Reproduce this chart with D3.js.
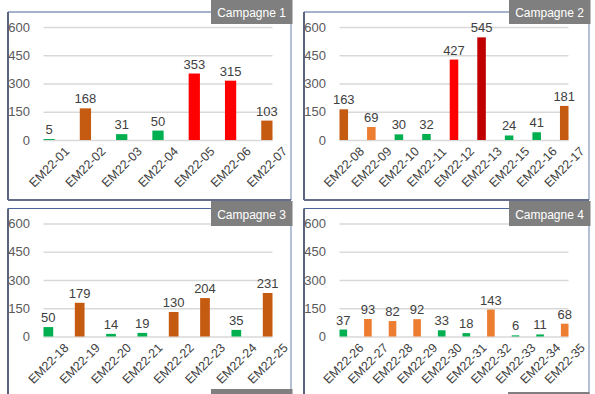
<!DOCTYPE html>
<html>
<head>
<meta charset="utf-8">
<script src="https://cdn.jsdelivr.net/npm/d3@7"></script>
<style>
    body { margin: 0; background: #fff; }
    svg { display: block; font-family: "Liberation Sans", Arial, sans-serif; }
</style>
</head>
<body>
<svg id="chart" width="595" height="394"></svg>
<script>
// Data per campaign: station codes, counts and status level of each bar
var titles = ["Campagne 1", "Campagne 2", "Campagne 3", "Campagne 4"];

var stations1 = ["EM22-01", "EM22-02", "EM22-03", "EM22-04", "EM22-05", "EM22-06", "EM22-07"];
var values1 = [5, 168, 31, 50, 353, 315, 103];
var levels1 = ["faible", "eleve", "faible", "faible", "fort", "fort", "eleve"];

var stations2 = ["EM22-08", "EM22-09", "EM22-10", "EM22-11", "EM22-12", "EM22-13", "EM22-15", "EM22-16", "EM22-17"];
var values2 = [163, 69, 30, 32, 427, 545, 24, 41, 181];
var levels2 = ["eleve", "moyen", "faible", "faible", "fort", "tres_fort", "faible", "faible", "eleve"];

var stations3 = ["EM22-18", "EM22-19", "EM22-20", "EM22-21", "EM22-22", "EM22-23", "EM22-24", "EM22-25"];
var values3 = [50, 179, 14, 19, 130, 204, 35, 231];
var levels3 = ["faible", "eleve", "faible", "faible", "eleve", "eleve", "faible", "eleve"];

var stations4 = ["EM22-26", "EM22-27", "EM22-28", "EM22-29", "EM22-30", "EM22-31", "EM22-32", "EM22-33", "EM22-34", "EM22-35"];
var values4 = [37, 93, 82, 92, 33, 18, 143, 6, 11, 68];
var levels4 = ["faible", "moyen", "moyen", "moyen", "faible", "faible", "moyen", "faible", "faible", "moyen"];

var yTicks = [0, 150, 300, 450, 600];

var levelColor = d3.scaleOrdinal()
    .domain(["faible", "moyen", "eleve", "fort", "tres_fort"])
    .range(["#00b050", "#ed7d31", "#c55a11", "#ff0000", "#c00000"]);

var svg = d3.select("#chart");

// frame placement of the four panels (left, top, title box top / bottom)
var panels = [
    {left: 8, top: 12, boxTop: -2, boxBottom: 24, right: 291, bottom: 200, cats: stations1, vals: values1, lv: levels1},
    {left: 304, top: 12, boxTop: -2, boxBottom: 24, right: 589, bottom: 200, cats: stations2, vals: values2, lv: levels2},
    {left: 8, top: 208.5, boxTop: 201, boxBottom: 226, right: 291, bottom: 420, cats: stations3, vals: values3, lv: levels3},
    {left: 304, top: 208.5, boxTop: 201, boxBottom: 226, right: 589, bottom: 420, cats: stations4, vals: values4, lv: levels4}
];

function drawPanel(p, i) {
    var g = svg.append("g");
    var gx0 = p.left + 35.5, gx1 = p.left + 264.5;

    // panel frame
    g.append("line").attr("x1", p.left).attr("x2", p.right).attr("y1", p.top).attr("y2", p.top)
        .attr("stroke", "#4a6499").attr("stroke-width", 1);
    g.append("line").attr("x1", p.left).attr("x2", p.left).attr("y1", p.top).attr("y2", p.bottom)
        .attr("stroke", "#59647f").attr("stroke-width", 2);
    g.append("line").attr("x1", p.right).attr("x2", p.right).attr("y1", p.top).attr("y2", p.bottom)
        .attr("stroke", "#8c9cbf").attr("stroke-width", 1.3);
    g.append("line").attr("x1", p.left).attr("x2", p.right).attr("y1", p.bottom).attr("y2", p.bottom)
        .attr("stroke", "#636e8a").attr("stroke-width", 2);

    var y = d3.scaleLinear().domain([0, 600]).range([p.top + 128, p.top + 15]);
    var x = d3.scaleBand().domain(p.cats).range([gx0, gx1]).paddingInner(0.69).paddingOuter(0);

    // y axis with gridlines
    var ya = g.append("g").attr("transform", "translate(" + gx0 + ",0)")
        .call(d3.axisLeft(y).tickValues(yTicks).tickSize(-(gx1 - gx0)).tickPadding(13.5));
    ya.select(".domain").remove();
    ya.selectAll("line").attr("stroke", "#d9d9d9").attr("stroke-width", 1.4);
    ya.selectAll("text").attr("fill", "#595959").style("font-size", "13px")
        .style("font-family", "'Liberation Sans', Arial, sans-serif");

    // x axis, rotated labels centred on each category
    var xa = g.append("g").attr("transform", "translate(0," + y(0) + ")")
        .call(d3.axisBottom(x).tickSize(0));
    xa.select(".domain").remove();
    xa.selectAll("text")
        .attr("y", 0).attr("dy", "0.35em")
        .attr("transform", "translate(0,27) rotate(-45)")
        .attr("text-anchor", "middle")
        .attr("fill", "#404040").style("font-size", "12.5px")
        .style("font-family", "'Liberation Sans', Arial, sans-serif");

    var rows = p.cats.map(function (c, k) { return {cat: c, v: p.vals[k], lv: p.lv[k]}; });

    g.selectAll("rect.bar").data(rows).enter().append("rect")
        .attr("class", "bar")
        .attr("x", function (d) { return x(d.cat); })
        .attr("width", x.bandwidth())
        .attr("y", function (d) { return y(d.v); })
        .attr("height", function (d) { return y(0) - y(d.v); })
        .attr("fill", function (d) { return levelColor(d.lv); });

    g.selectAll("text.val").data(rows).enter().append("text")
        .attr("class", "val")
        .attr("x", function (d) { return x(d.cat) + x.bandwidth() / 2; })
        .attr("y", function (d) { return y(d.v) - 5; })
        .attr("text-anchor", "middle")
        .attr("fill", "#404040")
        .style("font-size", "13px")
        .text(function (d) { return d.v; });

    // title tag in the top right corner
    g.append("rect").attr("x", p.right - 80).attr("y", p.boxTop)
        .attr("width", 81.5).attr("height", p.boxBottom - p.boxTop)
        .attr("fill", "#7f7f7f");
    g.append("text").attr("x", p.right - 39.5).attr("y", p.boxBottom - 7.5)
        .attr("text-anchor", "middle").attr("fill", "#fff").style("font-size", "12px")
        .text(titles[i]);
}

panels.forEach(drawPanel);

// title tags of the next row, just visible at the bottom edge
svg.append("rect").attr("x", 211).attr("y", 389).attr("width", 81.5).attr("height", 20).attr("fill", "#7f7f7f");
svg.append("rect").attr("x", 508).attr("y", 392).attr("width", 81.5).attr("height", 20).attr("fill", "#7f7f7f");
</script>
</body>
</html>
